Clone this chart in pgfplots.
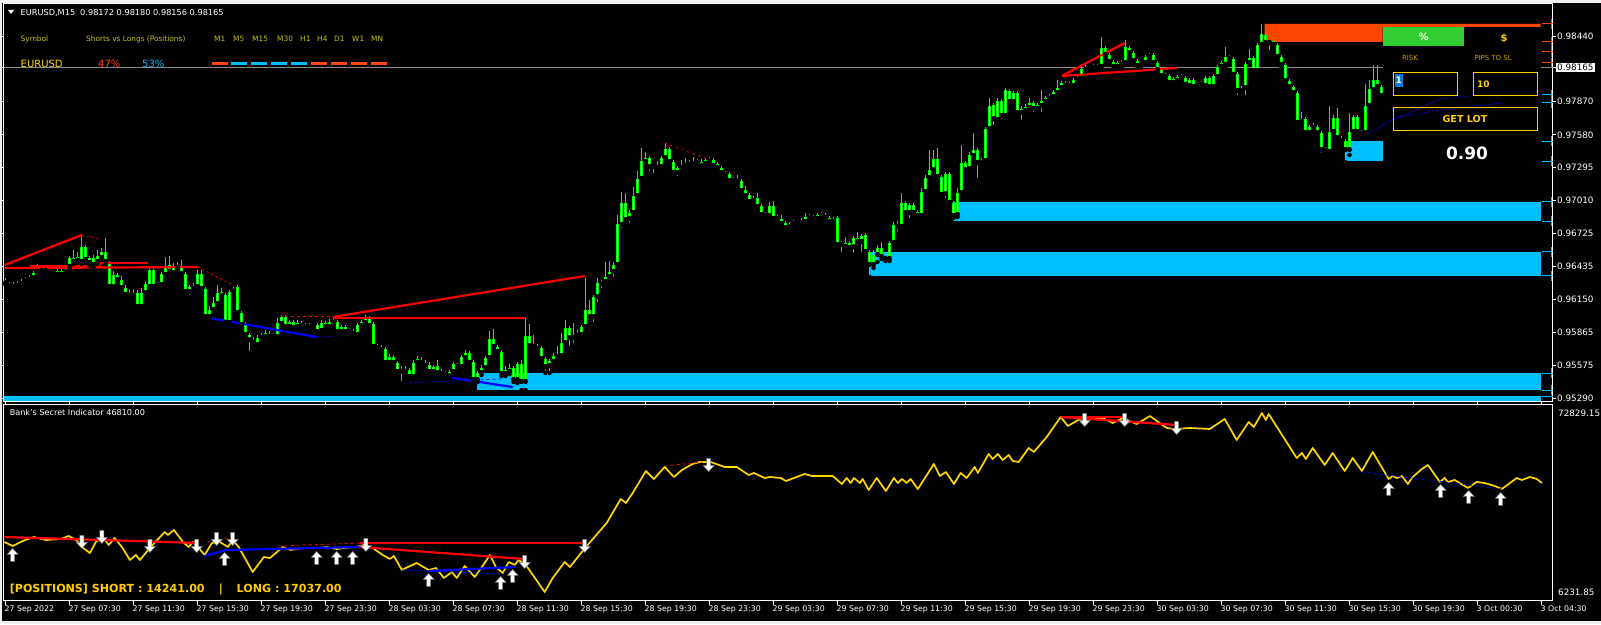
\documentclass[border=0pt]{standalone}
\usepackage{pgfplots}
\pgfplotsset{compat=1.18}
\usepackage{pgfplotstable}
\usepackage{fontspec}
\setmainfont{DejaVu Sans}

\definecolor{barlime}{RGB}{0,255,0}
\definecolor{zoneblue}{RGB}{0,191,255}
\definecolor{zoneorange}{RGB}{255,69,0}
\definecolor{indgold}{RGB}{255,215,0}
\definecolor{panelgold}{RGB}{255,204,0}
\definecolor{labelolive}{RGB}{196,196,24}
\definecolor{riskgold}{RGB}{204,160,0}
\definecolor{btngreen}{RGB}{50,205,50}
\definecolor{bidgray}{RGB}{140,140,140}
\definecolor{selblue}{RGB}{0,120,215}
\definecolor{framegray}{RGB}{240,240,240}
\definecolor{trendred}{RGB}{255,0,0}
\definecolor{trendblue}{RGB}{0,0,255}

\newcommand{\fs}[1]{\fontsize{#1}{#1}\selectfont}

\pgfdeclareplotmark{arrowup}{%
  \pgfpathmoveto{\pgfqpoint{0pt}{6.5pt}}%
  \pgfpathlineto{\pgfqpoint{5.5pt}{0.5pt}}%
  \pgfpathlineto{\pgfqpoint{2pt}{0.5pt}}%
  \pgfpathlineto{\pgfqpoint{2pt}{-6.5pt}}%
  \pgfpathlineto{\pgfqpoint{-2pt}{-6.5pt}}%
  \pgfpathlineto{\pgfqpoint{-2pt}{0.5pt}}%
  \pgfpathlineto{\pgfqpoint{-5.5pt}{0.5pt}}%
  \pgfpathclose
  \pgfusepathqfillstroke}
\pgfdeclareplotmark{arrowdown}{%
  \pgfpathmoveto{\pgfqpoint{0pt}{-6.5pt}}%
  \pgfpathlineto{\pgfqpoint{5.5pt}{-0.5pt}}%
  \pgfpathlineto{\pgfqpoint{2pt}{-0.5pt}}%
  \pgfpathlineto{\pgfqpoint{2pt}{6.5pt}}%
  \pgfpathlineto{\pgfqpoint{-2pt}{6.5pt}}%
  \pgfpathlineto{\pgfqpoint{-2pt}{-0.5pt}}%
  \pgfpathlineto{\pgfqpoint{-5.5pt}{-0.5pt}}%
  \pgfpathclose
  \pgfusepathqfillstroke}

% EURUSD M15 bars: index, open, high, low, close
\pgfplotstableread{
i o h l c
0 0.96317 0.96334 0.96274 0.96291
1 0.96282 0.96300 0.96247 0.96265
2 0.96256 0.96300 0.96239 0.96282
3 0.96265 0.96308 0.96247 0.96291
4 0.96282 0.96326 0.96265 0.96308
5 0.96308 0.96343 0.96291 0.96326
6 0.96317 0.96361 0.96300 0.96343
7 0.96334 0.96395 0.96317 0.96378
8 0.96387 0.96456 0.96369 0.96421
9 0.96413 0.96439 0.96378 0.96395
10 0.96395 0.96439 0.96378 0.96413
11 0.96404 0.96421 0.96369 0.96387
12 0.96404 0.96421 0.96361 0.96387
13 0.96395 0.96413 0.96343 0.96361
14 0.96361 0.96421 0.96343 0.96395
15 0.96378 0.96439 0.96361 0.96404
16 0.96430 0.96526 0.96413 0.96508
17 0.96508 0.96578 0.96456 0.96474
18 0.96482 0.96561 0.96465 0.96517
19 0.96474 0.96709 0.96456 0.96604
20 0.96604 0.96622 0.96474 0.96491
21 0.96508 0.96526 0.96439 0.96465
22 0.96448 0.96535 0.96430 0.96508
23 0.96474 0.96578 0.96456 0.96526
24 0.96508 0.96595 0.96491 0.96561
25 0.96561 0.96682 0.96456 0.96474
26 0.96465 0.96482 0.96230 0.96256
27 0.96256 0.96395 0.96230 0.96361
28 0.96361 0.96378 0.96291 0.96317
29 0.96317 0.96352 0.96230 0.96247
30 0.96247 0.96274 0.96169 0.96187
31 0.96204 0.96230 0.96160 0.96178
32 0.96178 0.96239 0.96160 0.96204
33 0.96204 0.96230 0.96065 0.96082
34 0.96082 0.96247 0.96065 0.96204
35 0.96204 0.96300 0.96187 0.96282
36 0.96256 0.96421 0.96239 0.96404
37 0.96404 0.96421 0.96239 0.96256
38 0.96282 0.96300 0.96247 0.96265
39 0.96274 0.96387 0.96256 0.96369
40 0.96361 0.96517 0.96343 0.96430
41 0.96387 0.96526 0.96369 0.96448
42 0.96430 0.96465 0.96352 0.96378
43 0.96421 0.96474 0.96404 0.96439
44 0.96430 0.96491 0.96352 0.96369
45 0.96369 0.96387 0.96195 0.96213
46 0.96213 0.96274 0.96169 0.96256
47 0.96256 0.96291 0.96204 0.96239
48 0.96256 0.96404 0.96239 0.96369
49 0.96369 0.96404 0.96221 0.96239
50 0.96239 0.96256 0.95978 0.95995
51 0.95995 0.96091 0.95969 0.96056
52 0.96056 0.96169 0.96030 0.96117
53 0.96108 0.96274 0.96091 0.96204
54 0.96213 0.96247 0.96160 0.96178
55 0.96187 0.96204 0.95926 0.95943
56 0.95943 0.96230 0.95926 0.96213
57 0.96239 0.96256 0.96195 0.96213
58 0.96256 0.96274 0.96013 0.96030
59 0.96030 0.96047 0.95908 0.95926
60 0.95926 0.95952 0.95812 0.95839
61 0.95839 0.95856 0.95682 0.95795
62 0.95795 0.95821 0.95743 0.95769
63 0.95752 0.95839 0.95725 0.95812
64 0.95812 0.95856 0.95795 0.95830
65 0.95821 0.95882 0.95804 0.95856
66 0.95847 0.95873 0.95804 0.95821
67 0.95839 0.95856 0.95804 0.95821
68 0.95821 0.95986 0.95804 0.95943
69 0.95934 0.96013 0.95917 0.95995
70 0.95995 0.96013 0.95891 0.95908
71 0.95908 0.95969 0.95891 0.95952
72 0.95952 0.95969 0.95882 0.95899
73 0.95908 0.95969 0.95891 0.95943
74 0.95943 0.95960 0.95899 0.95917
75 0.95926 0.95943 0.95891 0.95908
76 0.95908 0.95943 0.95891 0.95926
77 0.95926 0.95943 0.95899 0.95917
78 0.95926 0.95943 0.95847 0.95865
79 0.95873 0.95969 0.95856 0.95943
80 0.95943 0.95960 0.95891 0.95908
81 0.95908 0.95978 0.95891 0.95952
82 0.95943 0.95995 0.95926 0.95960
83 0.95952 0.95969 0.95847 0.95865
84 0.95865 0.95926 0.95847 0.95908
85 0.95908 0.95926 0.95847 0.95865
86 0.95865 0.95899 0.95847 0.95882
87 0.95873 0.95891 0.95830 0.95847
88 0.95839 0.95943 0.95821 0.95926
89 0.95917 0.95969 0.95899 0.95952
90 0.95943 0.96013 0.95926 0.95986
91 0.95986 0.96004 0.95899 0.95917
92 0.95934 0.95952 0.95717 0.95734
93 0.95743 0.95760 0.95691 0.95725
94 0.95734 0.95752 0.95682 0.95708
95 0.95717 0.95734 0.95578 0.95595
96 0.95595 0.95673 0.95578 0.95647
97 0.95647 0.95665 0.95569 0.95595
98 0.95595 0.95612 0.95499 0.95517
99 0.95525 0.95569 0.95421 0.95517
100 0.95517 0.95569 0.95499 0.95543
101 0.95534 0.95551 0.95456 0.95473
102 0.95473 0.95621 0.95456 0.95595
103 0.95595 0.95656 0.95578 0.95630
104 0.95621 0.95647 0.95569 0.95595
105 0.95595 0.95621 0.95551 0.95569
106 0.95578 0.95604 0.95499 0.95517
107 0.95517 0.95578 0.95499 0.95560
108 0.95569 0.95621 0.95491 0.95508
109 0.95517 0.95543 0.95473 0.95499
110 0.95508 0.95525 0.95464 0.95491
111 0.95482 0.95534 0.95464 0.95517
112 0.95517 0.95604 0.95499 0.95586
113 0.95578 0.95595 0.95543 0.95560
114 0.95560 0.95665 0.95543 0.95647
115 0.95638 0.95708 0.95621 0.95682
116 0.95682 0.95699 0.95578 0.95595
117 0.95604 0.95621 0.95430 0.95447
118 0.95447 0.95525 0.95430 0.95508
119 0.95508 0.95578 0.95491 0.95551
120 0.95551 0.95656 0.95534 0.95638
121 0.95638 0.95873 0.95621 0.95804
122 0.95804 0.95891 0.95717 0.95734
123 0.95734 0.95752 0.95665 0.95691
124 0.95691 0.95708 0.95482 0.95499
125 0.95499 0.95569 0.95482 0.95534
126 0.95517 0.95586 0.95499 0.95551
127 0.95551 0.95569 0.95430 0.95447
128 0.95447 0.95604 0.95421 0.95586
129 0.95586 0.95621 0.95360 0.95430
130 0.95430 0.95978 0.95360 0.95830
131 0.95830 0.95934 0.95725 0.95743
132 0.95752 0.95839 0.95717 0.95734
133 0.95734 0.95760 0.95691 0.95717
134 0.95725 0.95743 0.95612 0.95630
135 0.95630 0.95647 0.95508 0.95560
136 0.95569 0.95630 0.95508 0.95612
137 0.95604 0.95682 0.95586 0.95656
138 0.95647 0.95743 0.95630 0.95665
139 0.95656 0.95856 0.95638 0.95769
140 0.95769 0.95969 0.95752 0.95899
141 0.95899 0.95917 0.95725 0.95812
142 0.95839 0.95943 0.95752 0.95812
143 0.95830 0.95882 0.95812 0.95847
144 0.95839 0.95926 0.95821 0.95908
145 0.95908 0.96334 0.95891 0.96056
146 0.96056 0.96143 0.95978 0.95995
147 0.95995 0.96187 0.95934 0.96169
148 0.96169 0.96334 0.96108 0.96291
149 0.96300 0.96317 0.96230 0.96282
150 0.96300 0.96474 0.96274 0.96343
151 0.96343 0.96482 0.96317 0.96387
152 0.96387 0.96474 0.96326 0.96448
153 0.96448 0.96883 0.96430 0.96804
154 0.96796 0.97083 0.96752 0.96987
155 0.96987 0.97074 0.96822 0.96839
156 0.96848 0.96926 0.96796 0.96900
157 0.96900 0.97126 0.96883 0.97048
158 0.97048 0.97265 0.97030 0.97196
159 0.97196 0.97465 0.97178 0.97352
160 0.97344 0.97431 0.97326 0.97378
161 0.97378 0.97396 0.97248 0.97300
162 0.97300 0.97326 0.97231 0.97309
163 0.97309 0.97352 0.97257 0.97291
164 0.97300 0.97396 0.97283 0.97378
165 0.97378 0.97509 0.97361 0.97457
166 0.97457 0.97474 0.97326 0.97344
167 0.97344 0.97361 0.97231 0.97248
168 0.97248 0.97309 0.97204 0.97291
169 0.97291 0.97361 0.97274 0.97318
170 0.97309 0.97378 0.97291 0.97326
171 0.97318 0.97361 0.97300 0.97335
172 0.97326 0.97387 0.97309 0.97344
173 0.97335 0.97370 0.97318 0.97352
174 0.97344 0.97370 0.97291 0.97309
175 0.97326 0.97378 0.97309 0.97361
176 0.97352 0.97387 0.97335 0.97370
177 0.97361 0.97378 0.97283 0.97309
178 0.97326 0.97344 0.97274 0.97291
179 0.97291 0.97309 0.97231 0.97248
180 0.97248 0.97265 0.97213 0.97231
181 0.97239 0.97257 0.97161 0.97178
182 0.97196 0.97213 0.97161 0.97178
183 0.97187 0.97231 0.97152 0.97170
184 0.97178 0.97196 0.97074 0.97091
185 0.97100 0.97135 0.97030 0.97048
186 0.97057 0.97074 0.96978 0.96996
187 0.97004 0.97048 0.96987 0.97030
188 0.97030 0.97074 0.96935 0.96952
189 0.96961 0.96978 0.96865 0.96883
190 0.96891 0.96909 0.96856 0.96874
191 0.96874 0.96996 0.96856 0.96961
192 0.96961 0.97004 0.96830 0.96848
193 0.96848 0.96883 0.96830 0.96865
194 0.96848 0.96883 0.96787 0.96804
195 0.96813 0.96830 0.96735 0.96769
196 0.96778 0.96822 0.96752 0.96804
197 0.96804 0.96839 0.96787 0.96813
198 0.96813 0.96839 0.96796 0.96822
199 0.96813 0.96856 0.96796 0.96830
200 0.96822 0.96900 0.96804 0.96865
201 0.96865 0.96891 0.96839 0.96856
202 0.96865 0.96883 0.96830 0.96848
203 0.96848 0.96900 0.96830 0.96883
204 0.96874 0.96909 0.96856 0.96891
205 0.96883 0.96900 0.96839 0.96856
206 0.96856 0.96874 0.96804 0.96822
207 0.96848 0.96865 0.96787 0.96822
208 0.96856 0.96874 0.96604 0.96622
209 0.96639 0.96656 0.96543 0.96622
210 0.96639 0.96691 0.96587 0.96604
211 0.96639 0.96656 0.96578 0.96595
212 0.96604 0.96700 0.96535 0.96682
213 0.96682 0.96735 0.96604 0.96648
214 0.96648 0.96717 0.96543 0.96700
215 0.96709 0.96726 0.96543 0.96561
216 0.96561 0.96578 0.96343 0.96448
217 0.96448 0.96578 0.96421 0.96535
218 0.96535 0.96622 0.96474 0.96595
219 0.96595 0.96648 0.96500 0.96517
220 0.96526 0.96561 0.96482 0.96500
221 0.96500 0.96656 0.96482 0.96639
222 0.96639 0.96822 0.96622 0.96796
223 0.96796 0.96830 0.96726 0.96778
224 0.96778 0.97074 0.96761 0.96987
225 0.96987 0.97004 0.96883 0.96900
226 0.96900 0.96987 0.96839 0.96970
227 0.96970 0.96987 0.96883 0.96900
228 0.96909 0.96926 0.96856 0.96874
229 0.96874 0.97117 0.96856 0.97083
230 0.97083 0.97231 0.97065 0.97204
231 0.97204 0.97448 0.97187 0.97274
232 0.97274 0.97448 0.97257 0.97370
233 0.97370 0.97465 0.97196 0.97213
234 0.97213 0.97231 0.97039 0.97057
235 0.97065 0.97257 0.97013 0.97239
236 0.97239 0.97257 0.96970 0.96987
237 0.96987 0.97004 0.96856 0.96874
238 0.96883 0.97117 0.96865 0.97074
239 0.97074 0.97492 0.97057 0.97335
240 0.97335 0.97352 0.97257 0.97274
241 0.97283 0.97431 0.97248 0.97405
242 0.97396 0.97596 0.97378 0.97448
243 0.97448 0.97465 0.97187 0.97335
244 0.97335 0.97378 0.97318 0.97361
245 0.97352 0.97648 0.97335 0.97631
246 0.97631 0.97900 0.97613 0.97831
247 0.97840 0.97857 0.97648 0.97718
248 0.97709 0.97900 0.97692 0.97874
249 0.97874 0.97892 0.97700 0.97744
250 0.97744 0.97987 0.97726 0.97970
251 0.97961 0.97979 0.97848 0.97866
252 0.97866 0.97961 0.97848 0.97944
253 0.97944 0.97961 0.97753 0.97770
254 0.97770 0.97831 0.97692 0.97805
255 0.97787 0.97848 0.97770 0.97822
256 0.97813 0.97900 0.97796 0.97857
257 0.97857 0.97874 0.97761 0.97805
258 0.97840 0.97857 0.97787 0.97805
259 0.97831 0.97970 0.97761 0.97874
260 0.97866 0.97918 0.97848 0.97900
261 0.97892 0.97935 0.97874 0.97918
262 0.97909 0.97970 0.97892 0.97953
263 0.97944 0.98057 0.97927 0.97987
264 0.97987 0.98048 0.97970 0.98031
265 0.98031 0.98048 0.97987 0.98005
266 0.98022 0.98040 0.97987 0.98005
267 0.98005 0.98074 0.97979 0.98057
268 0.98057 0.98092 0.98040 0.98074
269 0.98066 0.98170 0.98048 0.98153
270 0.98144 0.98188 0.98127 0.98170
271 0.98170 0.98188 0.98144 0.98161
272 0.98161 0.98196 0.98144 0.98179
273 0.98179 0.98196 0.98144 0.98161
274 0.98170 0.98431 0.98153 0.98335
275 0.98335 0.98353 0.98257 0.98275
276 0.98275 0.98292 0.98196 0.98214
277 0.98214 0.98231 0.98153 0.98170
278 0.98170 0.98222 0.98153 0.98205
279 0.98188 0.98231 0.98170 0.98214
280 0.98205 0.98405 0.98188 0.98344
281 0.98335 0.98353 0.98275 0.98292
282 0.98292 0.98309 0.98205 0.98222
283 0.98222 0.98240 0.98161 0.98179
284 0.98196 0.98222 0.98179 0.98205
285 0.98205 0.98275 0.98188 0.98257
286 0.98257 0.98292 0.98240 0.98275
287 0.98275 0.98292 0.98188 0.98205
288 0.98205 0.98222 0.98127 0.98144
289 0.98153 0.98170 0.98074 0.98092
290 0.98101 0.98118 0.98066 0.98083
291 0.98092 0.98109 0.98014 0.98031
292 0.98031 0.98083 0.98014 0.98066
293 0.98048 0.98101 0.98031 0.98083
294 0.98074 0.98109 0.98057 0.98092
295 0.98074 0.98092 0.97996 0.98014
296 0.98005 0.98074 0.97987 0.98057
297 0.98057 0.98074 0.97979 0.97996
298 0.98005 0.98040 0.97987 0.98022
299 0.98014 0.98048 0.97996 0.98031
300 0.98005 0.98092 0.97987 0.98074
301 0.98074 0.98092 0.97979 0.97996
302 0.97996 0.98109 0.97979 0.98092
303 0.98083 0.98188 0.98066 0.98170
304 0.98170 0.98222 0.98153 0.98205
305 0.98188 0.98344 0.98170 0.98257
306 0.98257 0.98275 0.98222 0.98240
307 0.98240 0.98257 0.98083 0.98101
308 0.98109 0.98127 0.97909 0.97961
309 0.97987 0.98005 0.97944 0.97961
310 0.97987 0.98214 0.97909 0.98196
311 0.98205 0.98327 0.98188 0.98248
312 0.98248 0.98266 0.98118 0.98135
313 0.98135 0.98379 0.98118 0.98362
314 0.98362 0.98544 0.98344 0.98457
315 0.98449 0.98466 0.98362 0.98379
316 0.98396 0.98414 0.98301 0.98379
317 0.98396 0.98414 0.98344 0.98362
318 0.98362 0.98379 0.98240 0.98257
319 0.98257 0.98275 0.98170 0.98188
320 0.98188 0.98205 0.98031 0.98048
321 0.98048 0.98066 0.97979 0.97996
322 0.97996 0.98014 0.97927 0.97944
323 0.97944 0.97961 0.97666 0.97683
324 0.97692 0.97779 0.97674 0.97718
325 0.97718 0.97735 0.97579 0.97596
326 0.97596 0.97666 0.97579 0.97648
327 0.97648 0.97683 0.97622 0.97639
328 0.97648 0.97666 0.97579 0.97596
329 0.97596 0.97613 0.97405 0.97448
330 0.97457 0.97474 0.97422 0.97439
331 0.97431 0.97831 0.97413 0.97605
332 0.97605 0.97753 0.97587 0.97726
333 0.97726 0.97813 0.97535 0.97552
334 0.97552 0.97570 0.97509 0.97526
335 0.97526 0.97544 0.97344 0.97448
336 0.97448 0.97770 0.97405 0.97605
337 0.97605 0.97753 0.97587 0.97735
338 0.97735 0.97753 0.97587 0.97605
339 0.97605 0.97622 0.97570 0.97587
340 0.97596 0.98022 0.97579 0.97831
341 0.97831 0.98057 0.97813 0.97979
342 0.97970 0.98188 0.97953 0.98057
343 0.98057 0.98188 0.97979 0.97996
344 0.97996 0.98014 0.97900 0.97918
}\candles

% Bank's Secret Indicator line
\pgfplotstableread{
i v
-0.3 24841
1.8 23353
4.3 25213
7.1 26701
10.1 25585
13.8 25957
15.8 27073
17.7 25585
19.1 22981
21.1 20749
22.6 24841
24.3 26701
25.8 23725
27.3 26329
29.1 22981
31.1 18145
32.6 20005
33.6 18145
36.3 22981
39.8 28561
40.6 27445
42.1 29305
44.6 24469
45.8 22981
46.8 24841
48.3 22609
49.8 20005
51.6 24469
53.6 24841
55.6 22981
56.8 25585
58.3 22981
61.8 13681
64.6 19261
66.1 18889
67.6 20749
69.3 22981
71.3 21865
74.1 22609
78.1 22609
80.3 22981
82.8 22237
84.6 22609
87.6 22981
89.6 23725
91.8 22609
94.3 20005
96.1 18517
97.1 19633
99.1 14425
100.6 15541
102.8 17029
105.8 14425
107.6 15169
109.6 11449
111.6 13681
112.8 11449
114.8 15913
117.3 11821
119.1 15541
121.1 20005
122.6 15541
124.3 13309
125.8 17401
127.3 16285
128.3 18145
130.1 16285
134.8 6231.85
136.8 11449
139.8 17401
141.1 15541
145.1 22981
150.3 31909
153.8 40837
155.1 39349
156.8 43069
160.1 51253
162.1 48277
164.8 52741
167.1 49021
169.1 51625
171.8 53857
173.6 54601
176.3 54601
179.8 52741
182.8 52741
185.8 49765
187.1 50509
189.8 48649
191.1 49021
193.8 48649
195.1 47533
199.8 50137
201.6 49393
206.8 49393
209.1 46417
210.3 48649
211.3 46789
212.1 48649
213.6 46789
214.3 48277
215.8 44185
217.8 48649
220.1 43813
222.1 48649
223.1 46789
224.1 48277
225.3 46789
226.3 48277
228.1 44557
232.1 53857
233.6 49393
235.1 50881
237.1 46417
238.8 50509
240.3 48649
242.3 52741
243.1 50509
245.8 57577
246.8 55717
248.1 57577
249.3 55345
250.8 57205
251.8 54973
253.3 54601
255.8 59809
257.1 58321
260.3 63901
263.8 71341
265.6 67993
268.6 70597
270.3 70969
274.3 70969
276.8 69109
279.3 70969
282.8 68737
286.1 71713
290.3 67249
292.3 66877
296.1 67249
301.1 66877
304.8 70597
307.8 62785
310.8 69481
312.1 67621
314.1 72829.15
315.1 70225
315.8 72457
322.8 56089
324.1 57949
325.1 55717
326.8 59809
329.8 53485
331.8 57949
334.8 51253
336.8 56089
339.1 51253
341.8 58321
345.8 48277
346.8 49393
347.8 48649
349.1 49393
350.6 46417
351.8 49021
354.1 52009
355.6 53485
358.6 47161
359.8 48649
360.6 47161
362.3 47905
365.6 44929
367.8 47161
369.8 46789
372.3 45673
374.1 44557
377.8 48649
379.1 47905
381.1 49021
382.8 48277
384.1 46810
}\indline

\begin{document}
\begin{tikzpicture}
% terminal window
\begin{scope}[x=1pt,y=1pt]
\fill[framegray] (0,0) rectangle (1601,624);
\fill[black] (2,3) rectangle (1601,621);
\end{scope}

% ---------------- price window ----------------
\begin{axis}[
  at={(4pt,222pt)}, anchor=south west,
  width=1549pt, height=398pt, scale only axis,
  xmin=-0.375, xmax=386.875, ymin=0.95256, ymax=0.98718,
  axis line style={white, line width=1pt},
  xtick=\empty,
  ytick={0.95290,0.95575,0.95865,0.96150,0.96435,0.96725,0.97010,0.97295,0.97580,0.97870,0.98440},
  extra y ticks={0.98165},
  yticklabel pos=right,
  tick align=outside, major tick length=3pt,
  y tick style={white, line width=0.8pt},
  scaled y ticks=false,
  yticklabel style={font=\fs{8.8}, text=white, anchor=west, inner sep=1pt,
    /pgf/number format/fixed, /pgf/number format/precision=5,
    /pgf/number format/fixed zerofill, /pgf/number format/assume math mode=true},
  extra y tick style={yticklabel style={fill=white, text=black}},
]
% bid line
\addplot[bidgray, line width=0.8pt] coordinates {(-0.375,0.98165) (386.875,0.98165)};

% supply / demand zones
\addplot[fill=zoneblue, draw=none] coordinates {(236.8,0.96996) (383.8,0.96996) (383.8,0.96830) (236.8,0.96830)} -- cycle;
\addplot[fill=zoneblue, draw=none] coordinates {(215.8,0.96561) (383.8,0.96561) (383.8,0.96352) (215.8,0.96352)} -- cycle;
\addplot[fill=zoneblue, draw=none] coordinates {(117.8,0.95508) (383.8,0.95508) (383.8,0.95360) (117.8,0.95360)} -- cycle;
\addplot[fill=zoneblue, draw=none] coordinates {(-0.375,0.95308) (383.8,0.95308) (383.8,0.95265) (-0.375,0.95265)} -- cycle;
\addplot[fill=zoneblue, draw=none] coordinates {(334.8,0.97526) (344.3,0.97526) (344.3,0.97352) (334.8,0.97352)} -- cycle;
\addplot[fill=zoneorange, draw=none] coordinates {(314.8,0.98544) (383.8,0.98544) (383.8,0.98518) (344.3,0.98518) (344.3,0.98388) (314.8,0.98388)} -- cycle;

% candles: wicks
\addplot[only marks, mark=none, error bars/.cd, y dir=plus, y explicit, error mark=none,
  error bar style={draw=barlime, line width=1pt, line cap=butt}]
  table[x=i, y=l, y error plus expr={\thisrow{h}-\thisrow{l}}] {\candles};
% candles: body outline
\addplot[only marks, mark=none, error bars/.cd, y dir=plus, y explicit, error mark=none,
  error bar style={draw=barlime, line width=3pt, line cap=butt}]
  table[x=i, y expr={min(\thisrow{o},\thisrow{c})}, y error plus expr={abs(\thisrow{c}-\thisrow{o})}] {\candles};
% body interior
\addplot[only marks, mark=none, error bars/.cd, y dir=plus, y explicit, error mark=none,
  error bar style={draw=white, line width=1pt, line cap=butt}]
  table[x=i, y expr={min(\thisrow{o},\thisrow{c})+0.00009}, y error plus expr={max(abs(\thisrow{c}-\thisrow{o})-0.00018,0)}] {\candles};

% lot calculator background
\addplot[fill=black, draw=none] coordinates {(344.3,0.98518) (383.8,0.98518) (383.8,0.97274) (344.3,0.97274)} -- cycle;

% trend lines
\addplot[trendred, line width=2.2pt] coordinates {(-0.2,0.96448) (19.1,0.96709)};
\addplot[trendred, line width=0.8pt, dash pattern=on 2pt off 3pt] coordinates {(19.1,0.96709) (23.6,0.96674)};
\addplot[trendred, line width=2.2pt] coordinates {(-0.2,0.96421) (48.1,0.96430)};
\addplot[trendred, line width=2.2pt] coordinates {(6.1,0.96439) (23.6,0.96439) (23.6,0.96465) (35.6,0.96465)};
\addplot[trendred, line width=0.8pt, dash pattern=on 2pt off 3pt] coordinates {(48.1,0.96430) (56.8,0.96274)};
\addplot[trendblue, line width=2.2pt] coordinates {(49.8,0.95995) (77.8,0.95821)};
\addplot[trendblue, line width=0.8pt, dash pattern=on 3pt off 3pt] coordinates {(77.8,0.95821) (87.8,0.95839)};
\addplot[trendred, line width=0.8pt, dash pattern=on 3pt off 3pt] coordinates {(69.8,0.96004) (81.8,0.96004)};
\addplot[trendred, line width=2.2pt] coordinates {(81.8,0.95995) (144.8,0.96352)};
\addplot[trendred, line width=2.2pt] coordinates {(81.8,0.95986) (130.1,0.95986)};
\addplot[trendblue, line width=2.2pt] coordinates {(105.6,0.95499) (126.8,0.95386)};
\addplot[trendblue, line width=0.8pt, dash pattern=on 3pt off 3pt] coordinates {(99.3,0.95421) (124.1,0.95456)};
\addplot[trendred, line width=0.8pt, dash pattern=on 2pt off 4pt] coordinates {(164.8,0.97509) (176.1,0.97361)};
\addplot[trendred, line width=2.2pt] coordinates {(264.1,0.98092) (279.8,0.98379)};
\addplot[trendred, line width=2.2pt] coordinates {(264.1,0.98092) (292.8,0.98161)};
\addplot[trendblue, line width=0.8pt, dash pattern=on 2pt off 2pt] coordinates {(339.8,0.97579) (346.8,0.97709) (353.6,0.97813) (358.6,0.97892) (366.1,0.97918)};
\addplot[trendblue, line width=0.8pt, dash pattern=on 2pt off 2pt] coordinates {(346.8,0.97726) (358.6,0.97796) (374.1,0.97857)};

% zone price markers at the scale
\addplot[zoneorange, line width=1pt, unbounded coords=jump] coordinates {
  (384.1,0.98544) (386.8,0.98544) (386.3,nan)
  (384.1,0.98388) (386.8,0.98388) (386.3,nan)
  (384.1,0.98301) (386.8,0.98301) (386.3,nan)
  (384.1,0.98205) (386.8,0.98205)};
\addplot[zoneblue, line width=1pt, unbounded coords=jump] coordinates {
  (384.1,0.97927) (386.8,0.97927) (386.3,nan)
  (384.1,0.97857) (386.8,0.97857) (386.3,nan)
  (384.1,0.97526) (386.8,0.97526) (386.3,nan)
  (384.1,0.97352) (386.8,0.97352) (386.3,nan)
  (384.1,0.96996) (386.8,0.96996) (386.3,nan)
  (384.1,0.96830) (386.8,0.96830) (386.3,nan)
  (384.1,0.96561) (386.8,0.96561) (386.3,nan)
  (384.1,0.96352) (386.8,0.96352) (386.3,nan)
  (384.1,0.95508) (386.8,0.95508) (386.3,nan)
  (384.1,0.95360) (386.8,0.95360) (386.3,nan)
  (384.1,0.95308) (386.8,0.95308)};
\addplot[zoneblue, line width=1pt, unbounded coords=jump] coordinates {
  (386.4,0.97970) (386.4,0.97883) (386.4,nan)
  (386.4,0.97900) (386.4,0.97813) (386.4,nan)
  (386.4,0.97570) (386.4,0.97483) (386.4,nan)
  (386.4,0.97396) (386.4,0.97309) (386.4,nan)
  (386.4,0.97039) (386.4,0.96952) (386.4,nan)
  (386.4,0.96874) (386.4,0.96787) (386.4,nan)
  (386.4,0.96604) (386.4,0.96517) (386.4,nan)
  (386.4,0.96395) (386.4,0.96308) (386.4,nan)
  (386.4,0.95551) (386.4,0.95464) (386.4,nan)
  (386.4,0.95404) (386.4,0.95317)};
\addplot[zoneorange, line width=1pt, unbounded coords=jump] coordinates {
  (386.4,0.98588) (386.4,0.98501) (386.4,nan)
  (386.4,0.98431) (386.4,0.98344) (386.4,nan)
  (386.4,0.98344) (386.4,0.98257) (386.4,nan)
  (386.4,0.98248) (386.4,0.98161)};
\end{axis}

% ---------------- indicator window ----------------
\begin{axis}[
  at={(4pt,23pt)}, anchor=south west,
  width=1549pt, height=196pt, scale only axis,
  xmin=-0.375, xmax=386.875, ymin=2893, ymax=75805,
  axis line style={white, line width=1pt},
  xtick={0,16,...,384},
  xticklabels={27 Sep 2022, 27 Sep 07:30, 27 Sep 11:30, 27 Sep 15:30, 27 Sep 19:30, 27 Sep 23:30,
    28 Sep 03:30, 28 Sep 07:30, 28 Sep 11:30, 28 Sep 15:30, 28 Sep 19:30, 28 Sep 23:30,
    29 Sep 03:30, 29 Sep 07:30, 29 Sep 11:30, 29 Sep 15:30, 29 Sep 19:30, 29 Sep 23:30,
    30 Sep 03:30, 30 Sep 07:30, 30 Sep 11:30, 30 Sep 15:30, 30 Sep 19:30, 3 Oct 00:30, 3 Oct 04:30},
  tick align=outside, major tick length=4pt,
  x tick style={white, line width=0.8pt},
  xticklabel style={font=\fs{7.8}, text=white, anchor=north west, inner sep=0pt, xshift=-1pt, yshift=-1pt},
  ytick={6231.85,72829.15}, yticklabel pos=right,
  y tick style={draw=none},
  scaled y ticks=false,
  yticklabel style={font=\fs{8.8}, text=white, anchor=west, inner sep=1pt,
    /pgf/number format/fixed, /pgf/number format/precision=2,
    /pgf/number format/fixed zerofill, /pgf/number format/1000 sep={},
    /pgf/number format/assume math mode=true},
]
\addplot[indgold, line width=1.7pt, line join=round] table[x=i, y=v] {\indline};

\addplot[trendred, line width=2.2pt] coordinates {(-0.3,26701) (48.3,24469)};
\addplot[trendred, line width=0.8pt, dash pattern=on 3pt off 3pt] coordinates {(50.4,24841) (56.8,26701)};
\addplot[trendblue, line width=2.2pt] coordinates {(49.8,19633) (55.1,21865) (88.6,22981)};
\addplot[trendred, line width=0.8pt, dash pattern=on 3pt off 3pt] coordinates {(68.3,23353) (89.1,24469)};
\addplot[trendred, line width=2.2pt] coordinates {(88.6,24469) (144.8,24469)};
\addplot[trendred, line width=2.2pt] coordinates {(88.6,22981) (129.6,18517)};
\addplot[trendblue, line width=2.2pt] coordinates {(105.8,14053) (127.3,15541)};
\addplot[trendblue, line width=0.8pt, dash pattern=on 3pt off 3pt] coordinates {(99.1,14425) (123.8,12937)};
\addplot[trendred, line width=0.8pt, dash pattern=on 3pt off 3pt] coordinates {(164.8,53113) (174.3,54601)};
\addplot[trendred, line width=2.2pt] coordinates {(263.8,71341) (279.8,71341)};
\addplot[trendred, line width=2.2pt] coordinates {(263.8,71341) (292.8,68365)};
\addplot[trendblue, line width=0.8pt, dash pattern=on 3pt off 3pt] coordinates {(339.1,50881) (374.1,44557)};

% signal arrows
\addplot[only marks, mark=arrowdown, mark options={fill=white, draw=black!55, line width=0.5pt}] coordinates {
  (19.1,24841) (24.1,26701) (36.1,23353) (47.8,23353) (52.8,25957) (56.8,25957) (90.1,23725)
  (129.8,17401) (144.8,23353) (175.8,53485) (269.8,70225) (279.8,70225) (292.8,67249)};
\addplot[only marks, mark=arrowup, mark options={fill=white, draw=black!55, line width=0.5pt}] coordinates {
  (1.8,20005) (54.8,18517) (77.8,18889) (82.8,18889) (86.8,18889) (105.8,10705) (123.8,9589)
  (126.8,12193) (345.8,44557) (358.8,43813) (365.8,41581) (373.8,40837)};
\end{axis}

% ---------------- chart texts and panels ----------------
\begin{scope}[x=1pt,y=1pt]
\fill[white] (8,614) -- (14,614) -- (11,610) -- cycle;
\node[anchor=base west, inner sep=0pt, text=white, font=\fs{8.2}] at (20.5,608.4)
  {EURUSD,M15\hspace{5pt}0.98172 0.98180 0.98156 0.98165};

\node[anchor=base west, inner sep=0pt, text=labelolive, font=\fs{7.4}] at (20.5,582.2) {Symbol};
\node[anchor=base west, inner sep=0pt, text=labelolive, font=\fs{7.4}] at (86,582.2) {Shorts vs Longs (Positions)};
\foreach \lx/\lt in {214/M1,233/M5,252/M15,277/M30,300/H1,317/H4,334/D1,352/W1,371/MN}
  \node[anchor=base west, inner sep=0pt, text=labelolive, font=\fs{7.4}] at (\lx,582.2) {\lt};

\node[anchor=base west, inner sep=0pt, text=indgold, font=\fs{10}] at (20.5,556.7) {EURUSD};
\node[anchor=base west, inner sep=0pt, text=zoneorange, font=\fs{10}] at (98,556.7) {47\%};
\node[anchor=base west, inner sep=0pt, text=zoneblue, font=\fs{10}] at (142,556.7) {53\%};
\foreach \dx/\dc in {212/zoneorange,231/zoneblue,251/zoneblue,271/zoneblue,291/zoneblue,311/zoneorange,331/zoneorange,351/zoneorange,371/zoneorange}
  \fill[\dc] (\dx,558.5) rectangle ++(16,3.3);

% lot size calculator
\fill[btngreen] (1383,597) rectangle (1464,578);
\node[text=white, font=\bfseries\fs{10}] at (1423.5,587.5) {\%};
\node[text=panelgold, font=\bfseries\fs{10}] at (1504,586) {\$};
\node[anchor=base, inner sep=0pt, text=riskgold, font=\fs{7}] at (1410,563) {RISK};
\node[anchor=base, inner sep=0pt, text=riskgold, font=\fs{7}] at (1493,563) {PIPS TO SL};
\draw[panelgold, line width=1pt] (1393.5,551.5) rectangle (1457,528);
\draw[panelgold, line width=1pt] (1473.5,551.5) rectangle (1537,528);
\draw[panelgold, line width=1pt] (1393.5,516.5) rectangle (1537,493);
\fill[selblue] (1395,549.5) rectangle (1402.5,537);
\node[text=white, font=\bfseries\fs{9}, inner sep=0pt] at (1398.8,543.3) {1};
\node[anchor=west, text=panelgold, font=\bfseries\fs{9}, inner sep=0pt] at (1477,539.5) {10};
\node[text=panelgold, font=\bfseries\fs{9.6}, inner sep=0pt] at (1465,505) {GET LOT};
\node[text=white, font=\bfseries\fs{17}, inner sep=0pt] at (1467,471) {0.90};

% indicator captions
\node[anchor=base west, inner sep=0pt, text=white, font=\fs{8.1}] at (9.6,208.3) {Bank's Secret Indicator 46810.00};
\node[anchor=base west, inner sep=0pt, text=panelgold, font=\bfseries\fs{11.1}] at (9.6,31) {[POSITIONS] SHORT : 14241.00};
\node[anchor=base, inner sep=0pt, text=panelgold, font=\bfseries\fs{11.1}] at (221,31) {|};
\node[anchor=base west, inner sep=0pt, text=panelgold, font=\bfseries\fs{11.1}] at (236.5,31) {LONG : 17037.00};

\pgfresetboundingbox
\path (0,0) rectangle (1601,624);
\end{scope}
\end{tikzpicture}
\end{document}
